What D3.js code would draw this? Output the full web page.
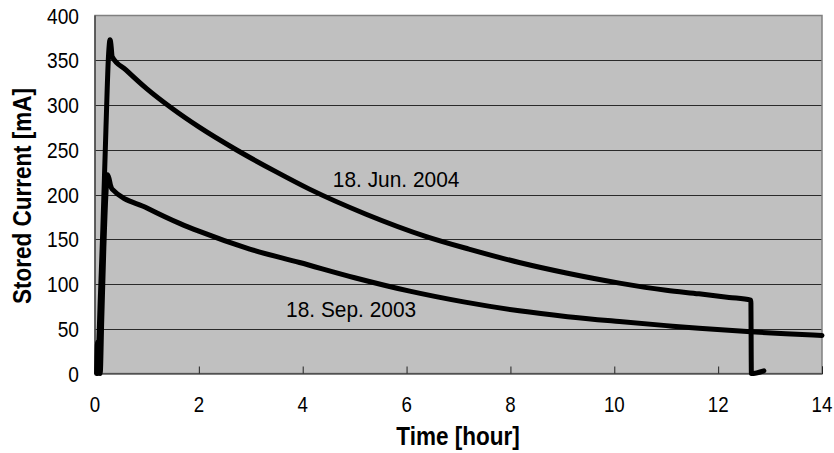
<!DOCTYPE html>
<html>
<head>
<meta charset="utf-8">
<script src="https://cdn.jsdelivr.net/npm/d3@7"></script>
<style>
  body{margin:0;background:#fff;}
  svg text{font-family:"Liberation Sans",Arial,sans-serif;fill:#000;}
</style>
</head>
<body>
<svg id="chart" width="834" height="453"></svg>
<script>
// values
const xTicks=[0,2,4,6,8,10,12,14];
const yTicks=[0,50,100,150,200,250,300,350,400];

const junTime=[0.05,0.06,0.10,0.15,0.21,0.26,0.29,0.31,0.33,0.6,1.0,1.5,2.0,2.72,3.5,4.13,5.22,6.38,7.2,8.17,9.1,10.1,11.0,11.63,12.21,12.63,12.64,12.88];
const junCurrent=[0,12,80,160,272,355,373,366,354,339,318,295.5,275.5,250,225,206,178,153,139,124,112,101,93,89,85,82,0,3];

const sepTime=[0.03,0.05,0.07,0.10,0.13,0.17,0.21,0.24,0.27,0.30,0.33,1.0,1.64,2.0,2.98,3.94,5.0,6.06,7.1,8.17,9.1,10.1,11.0,11.63,12.63,13.3,14];
const sepCurrent=[0,35,5,0,60,140,200,222,218,210,206,185,167.5,159,139,124,107,92,80,70,63.5,58,53.5,50.5,46.6,44.5,42.5];

const labels=[
  {text:"18. Jun. 2004", t:4.58, v:208},
  {text:"18. Sep. 2003", t:3.68, v:63}
];

const svg=d3.select("#chart");
const pLeft=95, pRight=822, pTop=15.5, pBottom=373.5;

const x=d3.scaleLinear().domain([0,14]).range([pLeft,pRight]);
const y=d3.scaleLinear().domain([0,400]).range([pBottom,pTop]);

// plot area
svg.append("rect")
  .attr("x",pLeft).attr("y",pTop)
  .attr("width",pRight-pLeft).attr("height",pBottom-pTop)
  .attr("fill","#c0c0c0");

// grid
svg.append("g").selectAll("line")
  .data(yTicks.filter(d=>d>0&&d<400))
  .enter().append("line")
  .attr("x1",pLeft).attr("x2",pRight)
  .attr("y1",d=>Math.round(y(d))+0.5).attr("y2",d=>Math.round(y(d))+0.5)
  .attr("stroke","#2a2a2a").attr("stroke-width",1);

svg.append("rect")
  .attr("x",pLeft).attr("y",pTop)
  .attr("width",pRight-pLeft).attr("height",pBottom-pTop)
  .attr("fill","none").attr("stroke","#808080").attr("stroke-width",1.5);

// axes
const xAxis=svg.append("g")
  .attr("transform",`translate(0,${pBottom})`)
  .call(d3.axisTop(x).tickValues(xTicks).tickSize(7).tickFormat(""));
xAxis.select(".domain").attr("stroke","#222");
xAxis.selectAll(".tick line").attr("stroke","#222");

svg.append("g").selectAll("text")
  .data(xTicks).enter().append("text")
  .attr("transform",d=>`translate(${x(d)},${pBottom+38}) scale(0.85,1)`)
  .attr("text-anchor","middle")
  .style("font-size","22px")
  .text(d=>d);

svg.append("g").selectAll("text")
  .data(yTicks).enter().append("text")
  .attr("transform",d=>`translate(79,${y(d)+8}) scale(0.87,1)`)
  .attr("text-anchor","end")
  .style("font-size","22px")
  .text(d=>d);

svg.append("line")
  .attr("x1",pLeft).attr("x2",pLeft).attr("y1",pTop).attr("y2",pBottom)
  .attr("stroke","#222");

// lines
const line=d3.line()
  .x(d=>x(d[0])).y(d=>y(d[1]))
  .curve(d3.curveMonotoneX);

const series=[
  d3.zip(sepTime,sepCurrent),
  d3.zip(junTime,junCurrent)
];

svg.append("g").selectAll("path")
  .data(series).enter().append("path")
  .attr("d",line)
  .attr("fill","none")
  .attr("stroke","#000")
  .attr("stroke-width",5)
  .attr("stroke-linejoin","round")
  .attr("stroke-linecap","round");

// series labels
svg.append("g").selectAll("text")
  .data(labels).enter().append("text")
  .attr("transform",d=>`translate(${x(d.t)},${y(d.v)}) scale(0.95,1)`)
  .style("font-size","22px")
  .text(d=>d.text);

// axis titles
svg.append("text")
  .attr("transform",`translate(458,445) scale(0.9,1)`)
  .attr("text-anchor","middle")
  .style("font-size","25px").style("font-weight","bold")
  .text("Time [hour]");

svg.append("text")
  .attr("transform",`translate(31,196) rotate(-90) scale(0.9,1)`)
  .attr("text-anchor","middle")
  .style("font-size","25px").style("font-weight","bold")
  .text("Stored Current [mA]");
</script>
</body>
</html>
